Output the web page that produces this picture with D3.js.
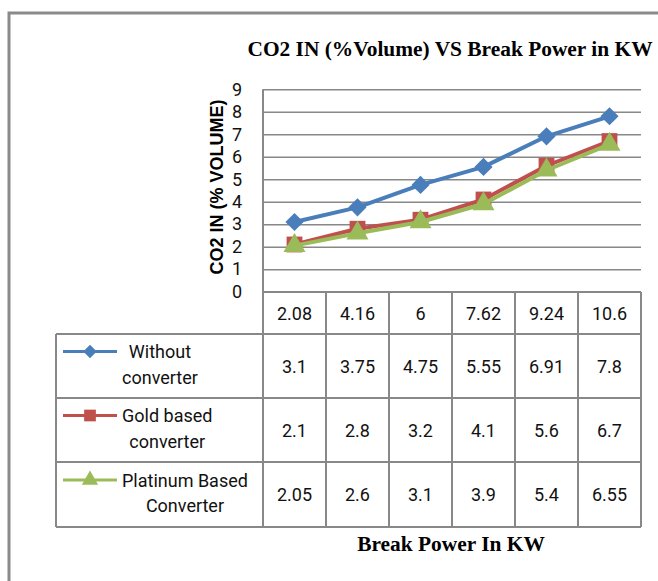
<!DOCTYPE html>
<html>
<head>
<meta charset="utf-8">
<script src="https://cdn.jsdelivr.net/npm/d3@7"></script>
<style>
  body { margin: 0; background: #fff; }
  svg { display: block; }
</style>
</head>
<body>
<svg id="chart" width="658" height="581"></svg>
<script>
// data
const xLabels = ['2.08', '4.16', '6', '7.62', '9.24', '10.6'];
const withoutConv = [3.1, 3.75, 4.75, 5.55, 6.91, 7.8];
const goldConv = [2.1, 2.8, 3.2, 4.1, 5.6, 6.7];
const platinumConv = [2.05, 2.6, 3.1, 3.9, 5.4, 6.55];
const seriesNames = [['Without', 'converter'], ['Gold based', 'converter'], ['Platinum Based', 'Converter']];
const yTicks = [0, 1, 2, 3, 4, 5, 6, 7, 8, 9];

// excel style diamond = square turned 45deg
const series = [
    { values: withoutConv, color: '#4a7ebb', marker: d3.symbolSquare, rot: 45, size: 165, name: seriesNames[0] },
    { values: goldConv, color: '#c0504d', marker: d3.symbolSquare, rot: 0, size: 250, name: seriesNames[1] },
    { values: platinumConv, color: '#9bbb59', marker: d3.symbolTriangle, rot: 0, size: 210, name: seriesNames[2] }
];

const svg = d3.select('#chart'),
    plotLeft = 263,
    plotRight = 641,
    plotTop = 89.3,
    plotBottom = 291.7,
    legendLeft = 56,
    rowEdges = [292, 334, 398, 462, 527],
    gridColor = '#888';

const xScale = d3.scaleBand().domain(xLabels).range([plotLeft, plotRight]);
const yScale = d3.scaleLinear().domain([0, 9]).range([plotBottom, plotTop]);

// outer frame
svg.append('path')
    .attr('d', 'M9,581V13H658')
    .attr('fill', 'none')
    .attr('stroke', '#8a8a8a')
    .attr('stroke-width', 3);

// title
svg.append('text')
    .attr('x', 450).attr('y', 56)
    .attr('text-anchor', 'middle')
    .style('font-family', '"Liberation Serif", "Times New Roman", serif')
    .style('font-weight', 'bold')
    .style('font-size', '21.4px')
    .text('CO2 IN (%Volume) VS Break Power in KW');

// y axis with grid
const yAxis = d3.axisLeft(yScale).tickValues(yTicks)
    .tickSize(-(plotRight - plotLeft)).tickPadding(21)
    .tickFormat(d3.format('d'));
svg.append('g')
    .attr('transform', 'translate(' + plotLeft + ',0)')
    .call(function (g) {
        g.call(yAxis);
        g.select('.domain').remove();
        g.selectAll('.tick line').attr('stroke', gridColor).attr('stroke-width', 1.6);
        g.selectAll('.tick text')
            .attr('fill', '#111')
            .style('font-family', 'Roboto, sans-serif')
            .style('font-size', '18px');
    });

svg.append('text')
    .attr('transform', 'translate(223,187) rotate(-90)')
    .attr('text-anchor', 'middle')
    .style('font-family', '"Liberation Sans", Arial, sans-serif')
    .style('font-weight', 'bold')
    .style('font-size', '18px')
    .text('CO2 IN (% VOLUME)');

// data table lines
const tbl = svg.append('g').attr('stroke', gridColor).attr('stroke-width', 2);
tbl.append('line')
    .attr('x1', plotLeft).attr('x2', plotRight)
    .attr('y1', rowEdges[0]).attr('y2', rowEdges[0]);
rowEdges.slice(1).forEach(function (ry) {
    tbl.append('line')
        .attr('x1', legendLeft).attr('x2', plotRight)
        .attr('y1', ry).attr('y2', ry);
});
xLabels.forEach(function (d) {
    tbl.append('line')
        .attr('x1', xScale(d)).attr('x2', xScale(d))
        .attr('y1', d === xLabels[0] ? plotTop : rowEdges[0])
        .attr('y2', rowEdges[rowEdges.length - 1]);
});
tbl.append('line')
    .attr('x1', plotRight).attr('x2', plotRight)
    .attr('y1', rowEdges[0]).attr('y2', rowEdges[rowEdges.length - 1]);
tbl.append('line')
    .attr('x1', legendLeft).attr('x2', legendLeft)
    .attr('y1', rowEdges[1]).attr('y2', rowEdges[rowEdges.length - 1]);

const cellFont = function (sel) {
    sel.style('font-family', 'Roboto, sans-serif').style('font-size', '18px').attr('fill', '#111');
};

// header row: x categories
svg.append('g').selectAll('text').data(xLabels).join('text')
    .attr('x', function (d) { return xScale(d) + xScale.bandwidth() / 2; })
    .attr('y', (rowEdges[0] + rowEdges[1]) / 2)
    .attr('text-anchor', 'middle')
    .attr('dominant-baseline', 'central')
    .call(cellFont)
    .text(function (d) { return d; });

// series lines + markers + table rows
const line = d3.line()
    .x(function (d, i) { return xScale(xLabels[i]) + xScale.bandwidth() / 2; })
    .y(function (d) { return yScale(d); });

series.forEach(function (s, k) {
    svg.append('path')
        .attr('d', line(s.values))
        .attr('fill', 'none')
        .attr('stroke', s.color)
        .attr('stroke-width', 4)
        .attr('stroke-linejoin', 'round');
    svg.append('g').selectAll('path').data(s.values).join('path')
        .attr('transform', function (d, i) {
            return 'translate(' + (xScale(xLabels[i]) + xScale.bandwidth() / 2) + ',' + yScale(d) + ') rotate(' + s.rot + ')';
        })
        .attr('d', d3.symbol().type(s.marker).size(s.size))
        .attr('fill', s.color);

    const rowMid = (rowEdges[k + 1] + rowEdges[k + 2]) / 2;
    svg.append('g').selectAll('text').data(s.values).join('text')
        .attr('x', function (d, i) { return xScale(xLabels[i]) + xScale.bandwidth() / 2; })
        .attr('y', rowMid)
        .attr('text-anchor', 'middle')
        .attr('dominant-baseline', 'central')
        .call(cellFont)
        .text(function (d) { return d; });

    // legend key
    const keyY = rowMid - 14.5;
    svg.append('line')
        .attr('x1', 63).attr('x2', 117)
        .attr('y1', keyY).attr('y2', keyY)
        .attr('stroke', s.color).attr('stroke-width', 3);
    svg.append('path')
        .attr('transform', 'translate(90,' + keyY + ') rotate(' + s.rot + ')')
        .attr('d', d3.symbol().type(s.marker).size(s.size * 0.55))
        .attr('fill', s.color);

    const lbl = svg.append('g');
    const lines = lbl.selectAll('text').data(s.name).join('text')
        .attr('y', function (d, i) { return keyY + i * 25.5; })
        .attr('text-anchor', 'middle')
        .attr('dominant-baseline', 'central')
        .call(cellFont)
        .text(function (d) { return d; });
    let maxW = 0;
    lines.each(function () { maxW = Math.max(maxW, this.getComputedTextLength()); });
    lines.attr('x', 122 + maxW / 2);
});

// x axis title
svg.append('text')
    .attr('x', 451).attr('y', 551)
    .attr('text-anchor', 'middle')
    .style('font-family', '"Liberation Serif", "Times New Roman", serif')
    .style('font-weight', 'bold')
    .style('font-size', '21.4px')
    .text('Break Power In KW');
</script>
</body>
</html>
